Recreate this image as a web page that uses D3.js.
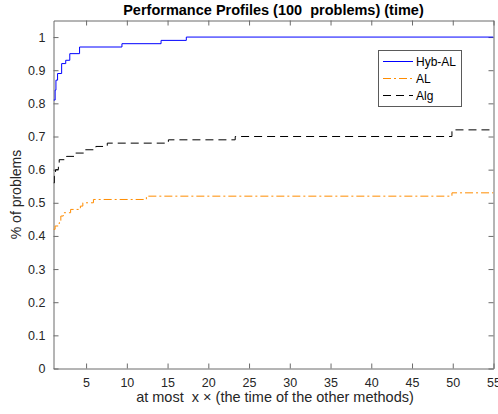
<!DOCTYPE html>
<html>
<head>
<meta charset="utf-8">
<script src="https://cdn.jsdelivr.net/npm/d3@7"></script>
<style>
  html, body { margin: 0; padding: 0; background: #fff; }
  svg { display: block; font-family: "Liberation Sans", Arial, sans-serif; }
</style>
</head>
<body>
<svg id="chart" width="498" height="414"></svg>
<script>
// ---- data ----
const seriesNames = ["Hyb-AL", "AL", "Alg"];
const hybX = [1, 1.2, 1.3, 1.5, 2.0, 2.5, 3.0, 4.2, 9.4, 14.2, 17.3, 55];
const hybY = [0.81, 0.84, 0.87, 0.89, 0.92, 0.93, 0.95, 0.97, 0.98, 0.99, 1.0, 1.0];
const alX  = [1, 1.2, 1.7, 1.9, 2.2, 3.1, 4.3, 4.6, 5.9, 12.4, 49.9, 55];
const alY  = [0.42, 0.43, 0.44, 0.46, 0.47, 0.48, 0.49, 0.50, 0.51, 0.52, 0.53, 0.53];
const algX = [1, 1.1, 1.25, 1.6, 1.7, 2.6, 3.6, 4.8, 6.2, 7.6, 15.1, 23.3, 49.9, 55];
const algY = [0.56, 0.58, 0.60, 0.62, 0.63, 0.64, 0.65, 0.66, 0.67, 0.68, 0.69, 0.70, 0.72, 0.72];
const xTicks = [5, 10, 15, 20, 25, 30, 35, 40, 45, 50, 55];
const yTicks = [0, 0.1, 0.2, 0.3, 0.4, 0.5, 0.6, 0.7, 0.8, 0.9, 1];
const titleText = "Performance Profiles (100  problems) (time)";
const xLabelText = "at most  x \u00d7 (the time of the other methods)";
const yLabelText = "% of problems";

// ---- layout ----
const L = 53.5, R = 493.5, T = 20.5, B = 368.5;
const svg = d3.select("#chart");
const x = d3.scaleLinear().domain([1, 55]).range([L, R]);
const y = d3.scaleLinear().domain([0, 1.05]).range([B, T]);

const axisColor = "#6b6b6b";
const textColor = "#262626";

function styleAxis(g, showText) {
  g.select(".domain").attr("stroke", axisColor);
  g.selectAll(".tick line").attr("stroke", axisColor);
  g.selectAll(".tick text").attr("fill", textColor).style("font-size", "12.5px")
    .style("display", showText ? null : "none");
}

svg.append("g").attr("transform", `translate(0,${B})`)
  .call(d3.axisBottom(x).tickValues(xTicks).tickSizeInner(-5).tickSizeOuter(0).tickPadding(10).tickFormat(d3.format("d")))
  .call(g => styleAxis(g, true));
svg.append("g").attr("transform", `translate(0,${T})`)
  .call(d3.axisTop(x).tickValues(xTicks).tickSizeInner(-5).tickSizeOuter(0))
  .call(g => styleAxis(g, false));
svg.append("g").attr("transform", `translate(${L},0)`)
  .call(d3.axisLeft(y).tickValues(yTicks).tickSizeInner(-5).tickSizeOuter(0).tickPadding(8).tickFormat(d => d3.format("")(+d.toFixed(1))))
  .call(g => styleAxis(g, true));
svg.append("g").attr("transform", `translate(${R},0)`)
  .call(d3.axisRight(y).tickValues(yTicks).tickSizeInner(-5).tickSizeOuter(0))
  .call(g => styleAxis(g, false));

// ---- lines ----
svg.append("defs").append("clipPath").attr("id", "clip")
  .append("rect").attr("x", L).attr("y", T - 1).attr("width", R - L).attr("height", B - T + 1);

const line = d3.line().x(d => x(d[0])).y(d => y(d[1])).curve(d3.curveStepAfter);
const series = [
  { name: seriesNames[0], pts: d3.zip(hybX, hybY), color: "#0000ff", dash: "none" },
  { name: seriesNames[1], pts: d3.zip(alX, alY), color: "#ff8c00", dash: "8,3,2,3" },
  { name: seriesNames[2], pts: d3.zip(algX, algY), color: "#000000", dash: "8,5" }
];
const plot = svg.append("g").attr("clip-path", "url(#clip)");
series.forEach(s => {
  plot.append("path").attr("d", line(s.pts)).attr("fill", "none")
    .attr("stroke", s.color).attr("stroke-width", 1)
    .attr("stroke-dasharray", s.dash);
});

// ---- legend ----
const lg = svg.append("g");
lg.append("rect").attr("x", 378.5).attr("y", 50.5).attr("width", 83).attr("height", 56)
  .attr("fill", "#fff").attr("stroke", "#5a5a5a").attr("stroke-width", 1);
series.forEach((s, i) => {
  const yy = 61 + i * 17;
  lg.append("line").attr("x1", 383).attr("x2", 413).attr("y1", yy + 0.5).attr("y2", yy + 0.5)
    .attr("stroke", s.color).attr("stroke-width", 1).attr("stroke-dasharray", s.dash);
  lg.append("text").attr("x", 416).attr("y", yy + 4.5).attr("fill", "#000")
    .style("font-size", "12px").text(s.name);
});

// ---- titles ----
svg.append("text").attr("x", (L + R) / 2).attr("y", 15).attr("text-anchor", "middle")
  .style("font-size", "14.5px").style("font-weight", "bold").style("white-space", "pre")
  .attr("fill", "#000").text(titleText);
svg.append("text").attr("x", 275).attr("y", 402).attr("text-anchor", "middle")
  .style("font-size", "14.5px").style("white-space", "pre")
  .attr("fill", textColor).text(xLabelText);
svg.append("text").attr("transform", `translate(21,${(T + B) / 2}) rotate(-90)`)
  .attr("text-anchor", "middle").style("font-size", "14px")
  .attr("fill", textColor).text(yLabelText);
</script>
</body>
</html>
